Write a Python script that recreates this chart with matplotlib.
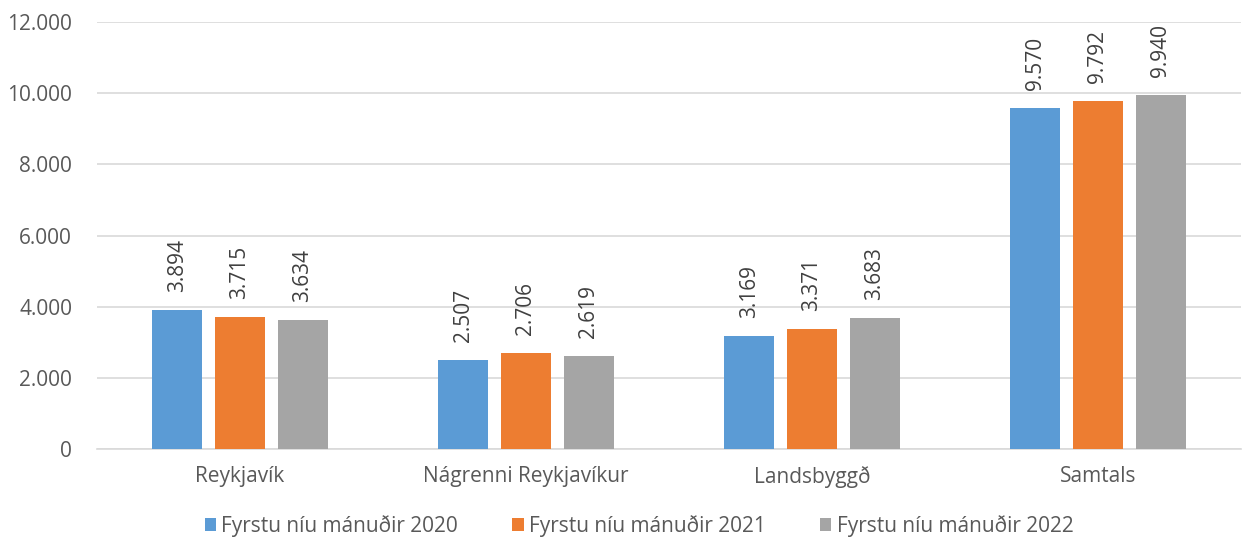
import matplotlib.pyplot as plt
import numpy as np

plt.rcParams['font.family'] = ['Open Sans', 'DejaVu Sans']

flokkar = ['Reykjavík', 'Nágrenni Reykjavíkur', 'Landsbyggð', 'Samtals']
ar2020 = [3894, 2507, 3169, 9570]
ar2021 = [3715, 2706, 3371, 9792]
ar2022 = [3634, 2619, 3683, 9940]
heiti = ['Fyrstu níu mánuðir 2020', 'Fyrstu níu mánuðir 2021', 'Fyrstu níu mánuðir 2022']
litir = ['#5b9bd5', '#ed7d31', '#a5a5a5']

fig = plt.figure(figsize=(12.47, 5.41), dpi=100)
ax = fig.add_axes([97/1247, 1 - 449/541, (1241-97)/1247, (449-22)/541])

x = np.arange(len(flokkar))
breidd = 0.175
bil = 0.22

for i, (gildi, nafn, litur) in enumerate(zip([ar2020, ar2021, ar2022], heiti, litir)):
    stodur = x + (i - 1) * bil
    ax.bar(stodur, gildi, width=breidd, color=litur, label=nafn, zorder=3)
    for xp, v in zip(stodur, gildi):
        ax.annotate(f'{v:,}'.replace(',', '.'), (xp, v), xytext=(0, 13),
                    textcoords='offset points', rotation=90, ha='center', va='bottom',
                    fontsize=15, color='#404040')

ax.set_xlim(-0.5, len(flokkar) - 0.5)
ax.set_ylim(0, 12000)
ax.set_yticks(range(0, 12001, 2000))
ax.set_yticklabels([f'{t:,}'.replace(',', '.') for t in range(0, 12001, 2000)])
ax.set_xticks(x)
ax.set_xticklabels(flokkar)
ax.grid(axis='y', color='#d9d9d9', linewidth=1.2, zorder=0)
for s in ['top', 'right', 'left']:
    ax.spines[s].set_visible(False)
ax.spines['bottom'].set_color('#d9d9d9')
ax.spines['bottom'].set_linewidth(1.2)
ax.tick_params(axis='both', length=0, labelsize=15, colors='#595959')
ax.tick_params(axis='x', pad=12)
ax.tick_params(axis='y', pad=18)

fig.legend(loc='center', bbox_to_anchor=(639/1247, 1 - 526/541), ncol=3, frameon=False,
           fontsize=15, handlelength=0.55, handleheight=0.55, handletextpad=0.25,
           columnspacing=2.6, labelcolor='#595959')

fig.savefig('out.png', dpi=100)
